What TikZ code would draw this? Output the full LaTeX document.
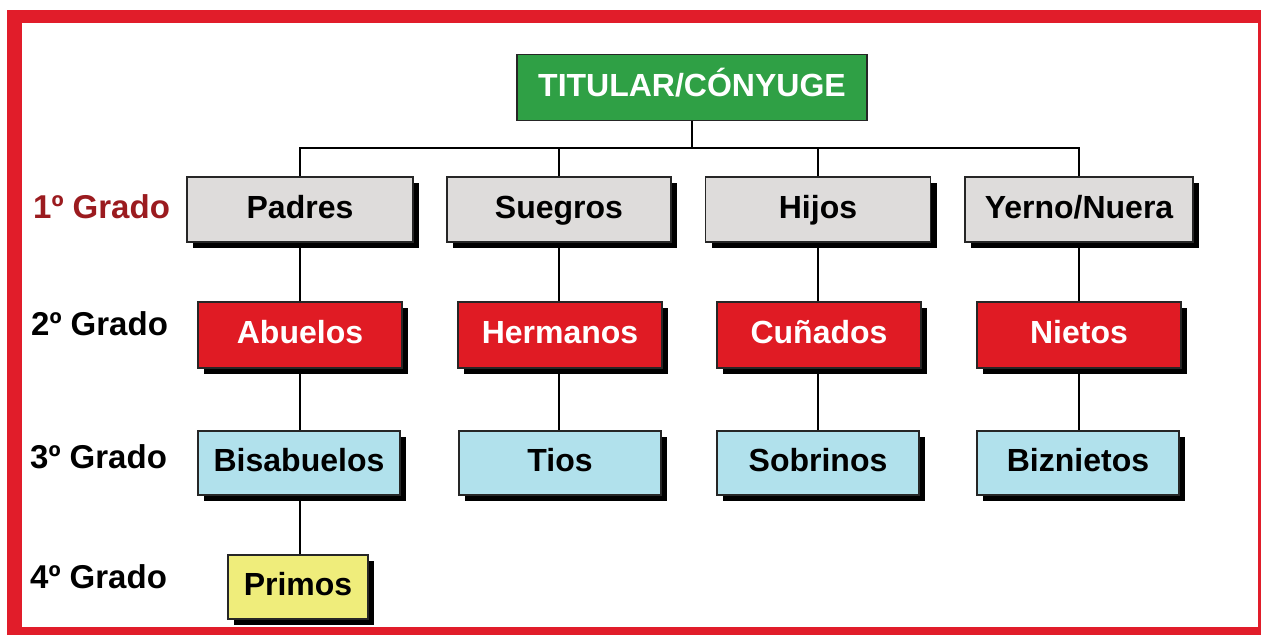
\documentclass[tikz,border=0pt]{standalone}
\usepackage{fontspec}
\setmainfont{Liberation Sans}
\usetikzlibrary{shadows}
\definecolor{frame}{HTML}{E11D2A}
\definecolor{boxgray}{HTML}{DEDCDB}
\definecolor{boxred}{HTML}{E01B24}
\definecolor{boxblue}{HTML}{B1E1EC}
\definecolor{boxyellow}{HTML}{EFED7B}
\definecolor{boxgreen}{HTML}{2FA045}
\definecolor{labred}{HTML}{9B1B1F}
\tikzset{
  base/.style={draw=black!85, line width=1.6pt, inner sep=0pt, align=center,
    text height=23pt, text depth=6pt,
    font=\fontsize{32}{36}\selectfont\bfseries},
  shad/.style={base, general shadow={shadow xshift=6pt, shadow yshift=-6pt, fill=black}},
  g1/.style={shad, fill=boxgray, text=black, minimum height=65pt},
  g2/.style={shad, fill=boxred, text=white, minimum width=204pt, minimum height=66pt},
  g3/.style={shad, fill=boxblue, text=black, minimum width=202pt, minimum height=64pt},
  g4/.style={shad, fill=boxyellow, text=black, minimum width=140pt, minimum height=64pt},
  lab/.style={anchor=west, inner sep=0pt, text height=23pt, text depth=6pt,
    font=\fontsize{33}{36}\selectfont\bfseries},
  conn/.style={line width=2pt, draw=black}
}
\begin{document}
\begin{tikzpicture}[x=1pt,y=-1pt]
\useasboundingbox (0,0) rectangle (1261,635);
\fill[frame] (7,10) rectangle (1261,635);
\fill[white] (22,23) rectangle (1258,627);

\node[base, fill=boxgreen, text=white, minimum width=350pt, minimum height=66pt] (tit) at (692,87.5) {TITULAR/CÓNYUGE};

\node[g1, minimum width=226pt] (padres) at (300,209.5) {Padres};
\node[g1, minimum width=224pt] (suegros) at (559,209.5) {Suegros};
\node[g1, minimum width=225pt] (hijos) at (818,209.5) {Hijos};
\node[g1, minimum width=228pt] (yerno) at (1079,209.5) {Yerno/Nuera};

\node[g2] (abuelos) at (300,335) {Abuelos};
\node[g2] (hermanos) at (560,335) {Hermanos};
\node[g2] (cunados) at (819,335) {Cuñados};
\node[g2] (nietos) at (1079,335) {Nietos};

\node[g3] (bisabuelos) at (299,463) {Bisabuelos};
\node[g3] (tios) at (560,463) {Tios};
\node[g3] (sobrinos) at (818,463) {Sobrinos};
\node[g3] (biznietos) at (1078,463) {Biznietos};

\node[g4] (primos) at (298,587) {Primos};

\node[lab, text=labred] (l1) at (33,210) {1º Grado};
\node[lab] (l2) at (31,327) {2º Grado};
\node[lab] (l3) at (30,460) {3º Grado};
\node[lab] (l4) at (30,580) {4º Grado};

\coordinate (bus) at (300,148);
\draw[conn] (tit.south) -- (tit.south |- bus);
\draw[conn] (padres.north) -- (padres.north |- bus) -- (yerno.north |- bus) -- (yerno.north);
\draw[conn] (suegros.north) -- (suegros.north |- bus);
\draw[conn] (hijos.north) -- (hijos.north |- bus);

\draw[conn] (padres.south) -- (padres.south |- abuelos.north);
\draw[conn] (suegros.south) -- (suegros.south |- hermanos.north);
\draw[conn] (hijos.south) -- (hijos.south |- cunados.north);
\draw[conn] (yerno.south) -- (yerno.south |- nietos.north);

\draw[conn] (padres.south |- abuelos.south) -- (padres.south |- bisabuelos.north);
\draw[conn] (suegros.south |- hermanos.south) -- (suegros.south |- tios.north);
\draw[conn] (hijos.south |- cunados.south) -- (hijos.south |- sobrinos.north);
\draw[conn] (yerno.south |- nietos.south) -- (yerno.south |- biznietos.north);

\draw[conn] (padres.south |- bisabuelos.south) -- (padres.south |- primos.north);
\end{tikzpicture}
\end{document}
